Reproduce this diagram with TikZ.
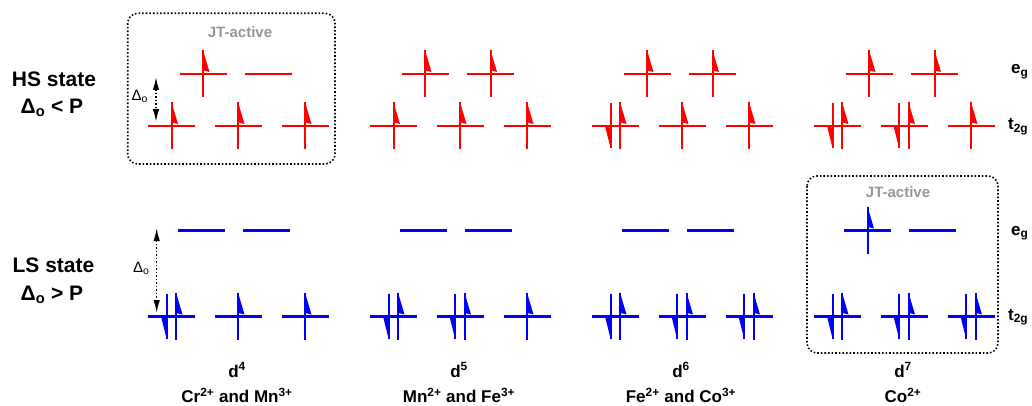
\documentclass[tikz,border=0pt]{standalone}
\usepackage{fontspec}
\setmainfont{Liberation Sans}
\usetikzlibrary{arrows.meta}
\definecolor{jtgray}{RGB}{150,150,150}
\definecolor{hsred}{RGB}{255,0,0}
\definecolor{lsblue}{RGB}{0,0,255}
\tikzset{
  lvl/.style={line width=2.2pt},
  espin/.style={line width=2pt},
  jtbox/.style={dotted, line width=1.6pt, rounded corners=10pt},
  jttext/.style={font=\fontsize{15}{18}\selectfont\bfseries, text=jtgray, anchor=base, inner sep=0pt},
  statelbl/.style={font=\fontsize{21}{25}\selectfont\bfseries, anchor=base, inner sep=0pt},
  botlbl/.style={font=\fontsize{17}{21}\selectfont\bfseries, anchor=base, inner sep=0pt},
  orblbl/.style={font=\fontsize{17}{20}\selectfont\bfseries, anchor=base west, inner sep=0pt},
  dlbl/.style={font=\fontsize{15}{18}\selectfont, anchor=base west, inner sep=0pt},
  delarrow/.style={dotted, line width=1.5pt, {Latex[length=13pt,width=6.5pt]}-{Latex[length=13pt,width=6.5pt]}},
  upe/.pic={\draw[espin] (0,-24) -- (0,23); \fill (0,-24) -- (6.5,-2) -- (0.5,-3.5) -- cycle;},
  dne/.pic={\draw[espin] (0,-23) -- (0,22); \fill (0,22) -- (-5.5,0) -- (-0.5,1.5) -- cycle;},
}
\newcommand\orbital[4]{%
  \draw[lvl,#3] (#1-23.5,#2) -- (#1+23.5,#2);
  \ifcase#4\or
    \pic[#3] at (#1,#2) {upe};
  \or
    \pic[#3] at (#1-5,#2) {dne};
    \pic[#3] at (#1+4.5,#2) {upe};
  \fi}
\begin{document}
\begin{tikzpicture}[x=1pt,y=-1pt]
\useasboundingbox (0,0) rectangle (1032,406);
% JT boxes
\draw[jtbox] (127.7,13.3) rectangle (335,164);
\node[jttext] (jt1) at (240,37.3) {JT-active};
\draw[jtbox] (807,176) rectangle (998,353);
\node[jttext] (jt2) at (898,197) {JT-active};
% left labels
\node[statelbl] (hs) at (54,86.7) {HS state};
\node[statelbl] (hsd) at (52,113.3) {Δ\textsubscript{o} < P};
\node[statelbl] (ls) at (53.5,272.7) {LS state};
\node[statelbl] (lsd) at (52,300) {Δ\textsubscript{o} > P};
% Delta arrows
\coordinate (ha) at (156,77);
\coordinate (hb) at (156,122);
\draw[delarrow] (ha) -- (hb);
\node[dlbl] (hdl) at (131.5,100.7) {Δ\textsubscript{o}};
\coordinate (la) at (156.7,228);
\coordinate (lb) at (156.7,313);
\draw[delarrow] (la) -- (lb);
\node[dlbl] (ldl) at (133,272.7) {Δ\textsubscript{o}};
% right labels
\node[orblbl] (eg1) at (1011,74) {e\textsubscript{g}};
\node[orblbl] (t1) at (1008,130) {t\textsubscript{2g}};
\node[orblbl] (eg2) at (1011,235) {e\textsubscript{g}};
\node[orblbl] (t2) at (1008,320) {t\textsubscript{2g}};
% columns
\foreach \xo/\ha/\hb/\hc/\hd/\he/\la/\lb/\lc/\ld/\le/\dn/\ion [count=\i] in {
  148/1/1/1/1/0/2/1/1/0/0/4/{Cr\textsuperscript{2+} and Mn\textsuperscript{3+}},
  370/1/1/1/1/1/2/2/1/0/0/5/{Mn\textsuperscript{2+} and Fe\textsuperscript{3+}},
  592/2/1/1/1/1/2/2/2/0/0/6/{Fe\textsuperscript{2+} and Co\textsuperscript{3+}},
  814/2/2/1/1/1/2/2/2/1/0/7/{Co\textsuperscript{2+}}}{
  \orbital{\xo+23.5}{126}{hsred}{\ha}
  \orbital{\xo+90}{126}{hsred}{\hb}
  \orbital{\xo+157}{126}{hsred}{\hc}
  \orbital{\xo+55}{74}{hsred}{\hd}
  \orbital{\xo+120.5}{74}{hsred}{\he}
  \orbital{\xo+23.5}{316.5}{lsblue}{\la}
  \orbital{\xo+90}{316.5}{lsblue}{\lb}
  \orbital{\xo+157}{316.5}{lsblue}{\lc}
  \orbital{\xo+53.5}{230.5}{lsblue}{\ld}
  \orbital{\xo+118.5}{230.5}{lsblue}{\le}
  \node[botlbl] (d\i) at (\xo+89,377) {d\textsuperscript{\dn}};
  \node[botlbl] (ion\i) at (\xo+89,402.5) {\ion};
}
\end{tikzpicture}
\end{document}
